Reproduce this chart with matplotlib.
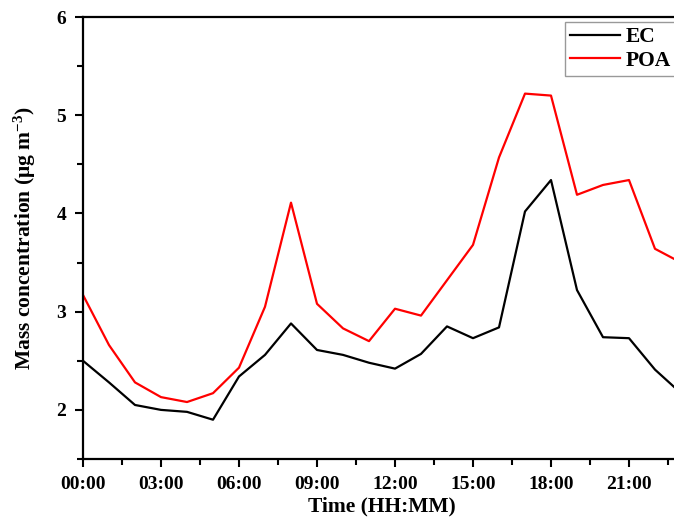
#!/usr/bin/env python

# import libraries
import numpy as np
import matplotlib
matplotlib.use("Agg")
import matplotlib.pyplot as plt
from matplotlib.ticker import MultipleLocator

# diurnal data, one value per hour
hours = np.arange(24)
ec = [2.50, 2.28, 2.05, 2.00, 1.98, 1.90, 2.34, 2.56, 2.88, 2.61, 2.56, 2.48,
      2.42, 2.57, 2.85, 2.73, 2.84, 4.02, 4.34, 3.22, 2.74, 2.73, 2.41, 2.17]
poa = [3.17, 2.66, 2.28, 2.13, 2.08, 2.17, 2.43, 3.05, 4.11, 3.08, 2.83, 2.70,
       3.03, 2.96, 3.32, 3.68, 4.57, 5.22, 5.20, 4.19, 4.29, 4.34, 3.64, 3.50]
xtick_pos = [0, 3, 6, 9, 12, 15, 18, 21]
xtick_labels = ["00:00", "03:00", "06:00", "09:00", "12:00", "15:00", "18:00", "21:00"]

plt.rcParams["font.family"] = ["Liberation Serif", "DejaVu Serif"]
plt.rcParams["font.weight"] = "bold"
plt.rcParams["mathtext.fontset"] = "custom"
plt.rcParams["mathtext.rm"] = "Liberation Serif:bold"
plt.rcParams["mathtext.it"] = "Liberation Serif:bold"
plt.rcParams["mathtext.bf"] = "Liberation Serif:bold"

W, H = 674, 518
fig = plt.figure(figsize=(W / 100, H / 100), dpi=100)
# axes run a bit past the right edge of the figure (cropped like the original)
left, right, top, bottom = 83, 681, 17, 459
ax = fig.add_axes([left / W, 1 - bottom / H, (right - left) / W, (bottom - top) / H])

ax.plot(hours, ec, color="black", lw=1.6, label="EC")
ax.plot(hours, poa, color="red", lw=1.6, label="POA")

ax.set_xlim(0, 23)
ax.set_ylim(1.5, 6)
ax.set_xticks(xtick_pos)
ax.set_xticklabels(xtick_labels)
ax.xaxis.set_minor_locator(MultipleLocator(1.5))
ax.yaxis.set_major_locator(MultipleLocator(1))
ax.yaxis.set_minor_locator(MultipleLocator(0.5))

ax.tick_params(which="major", direction="out", length=6, width=1.5, labelsize=14, pad=6)
ax.tick_params(which="minor", direction="out", length=4, width=1.5)
for s in ax.spines.values():
    s.set_linewidth(1.6)

ax.set_xlabel("Time (HH:MM)", fontsize=15.5, fontweight="bold", labelpad=3)
ax.set_ylabel("Mass concentration (μg m$^{-3}$)", fontsize=15.5, fontweight="bold", labelpad=13)

# legend box sticks out a little past the cropped right edge, like the original
leg = ax.legend(loc="upper right", bbox_to_anchor=(0.992, 0.989), fontsize=15.5,
                frameon=True, fancybox=False, handlelength=2.3, handletextpad=0.28,
                borderaxespad=0.0, labelspacing=0.15, borderpad=0.25)
leg.get_frame().set_edgecolor("gray")
leg.get_frame().set_linewidth(1.0)

fig.savefig("out.png", dpi=100)
